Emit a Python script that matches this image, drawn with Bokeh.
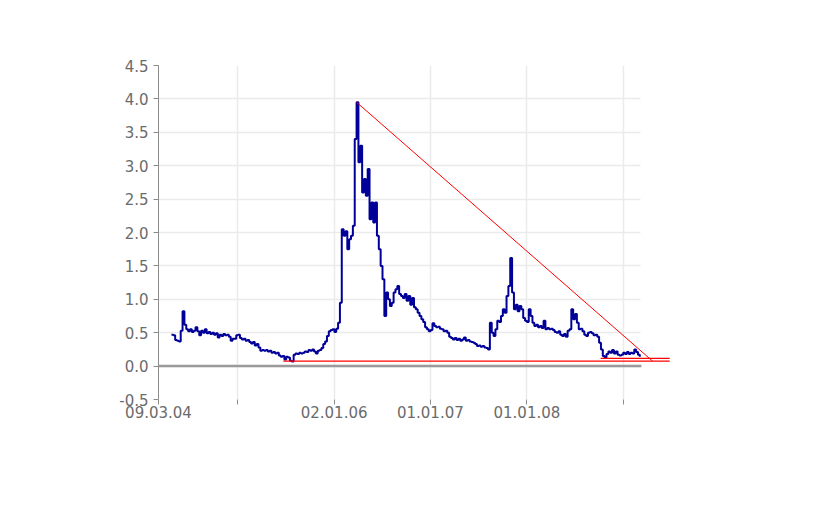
import pandas as pd
from bokeh.plotting import figure
from bokeh.models import Range1d, FixedTicker, PrintfTickFormatter
from bokeh.embed import file_html
from bokeh.resources import INLINE

# ---- data ----
start_date = "2004-04-27"          # first weekly observation
weekly_values = [
    0.47, 0.46, 0.39, 0.38, 0.37, 0.53, 0.82, 0.62, 0.55, 0.52,
    0.55, 0.51, 0.53, 0.58, 0.52, 0.46, 0.53, 0.50, 0.55, 0.49,
    0.51, 0.48, 0.50, 0.47, 0.49, 0.43, 0.47, 0.45, 0.48, 0.46,
    0.47, 0.44, 0.38, 0.41, 0.41, 0.46, 0.47, 0.42, 0.40, 0.41,
    0.38, 0.39, 0.36, 0.34, 0.36, 0.31, 0.33, 0.28, 0.23, 0.24,
    0.23, 0.24, 0.22, 0.23, 0.20, 0.21, 0.19, 0.20, 0.16, 0.14,
    0.15, 0.10, 0.14, 0.13, 0.08, 0.07, 0.17, 0.19, 0.18, 0.20,
    0.19, 0.20, 0.22, 0.21, 0.24, 0.23, 0.25, 0.22, 0.19, 0.23,
    0.24, 0.27, 0.33, 0.37, 0.45, 0.52, 0.54, 0.55, 0.51, 0.56,
    0.65, 0.95, 2.05, 1.95, 2.02, 1.75, 1.90, 1.95, 2.10, 3.40,
    3.95, 3.05, 3.30, 2.60, 2.80, 2.55, 2.95, 2.20, 2.45, 2.15,
    2.45, 1.95, 1.75, 1.50, 1.30, 0.75, 1.10, 1.00, 0.90, 0.95,
    1.10, 1.15, 1.20, 1.08, 1.05, 1.02, 1.08, 0.98, 1.05, 0.92,
    1.02, 0.88, 0.85, 0.80, 0.75, 0.70, 0.66, 0.58, 0.55, 0.52,
    0.54, 0.64, 0.60, 0.58, 0.59, 0.56, 0.55, 0.52, 0.53, 0.50,
    0.44, 0.42, 0.40, 0.42, 0.39, 0.41, 0.38, 0.40, 0.43, 0.38,
    0.39, 0.37, 0.36, 0.35, 0.33, 0.30, 0.31, 0.29, 0.30, 0.28,
    0.27, 0.25, 0.65, 0.50, 0.45, 0.55, 0.68, 0.66, 0.75, 0.85,
    0.80, 1.05, 1.20, 1.62, 1.10, 0.85, 0.92, 0.82, 0.90, 0.85,
    0.72, 0.68, 0.66, 0.85, 0.75, 0.65, 0.60, 0.62, 0.58, 0.60,
    0.57, 0.68, 0.55, 0.57, 0.55, 0.56, 0.54, 0.51, 0.50, 0.52,
    0.47, 0.45, 0.48, 0.44, 0.53, 0.55, 0.85, 0.70, 0.78, 0.65,
    0.55, 0.56, 0.52, 0.47, 0.45, 0.50, 0.51, 0.49, 0.46, 0.47,
    0.44, 0.35, 0.25, 0.15, 0.13, 0.18, 0.22, 0.20, 0.24, 0.19,
    0.22, 0.17, 0.16, 0.17, 0.20, 0.18, 0.21, 0.18, 0.20, 0.19,
    0.25, 0.21, 0.17, 0.14,
]

tick_dates = ["2004-03-09", "2005-01-01", "2006-01-02", "2007-01-01", "2008-01-01", "2009-01-01"]
tick_labels = ["09.03.04", "", "02.01.06", "01.01.07", "01.01.08", ""]
y_ticks = [-0.5, 0.0, 0.5, 1.0, 1.5, 2.0, 2.5, 3.0, 3.5, 4.0, 4.5]

trend_dates = ["2006-03-28", "2009-04-20"]
trend_values = [3.95, 0.075]
support_dates = ["2005-06-24", "2009-06-24"]
support_values = [0.075, 0.075]
support2_dates = ["2008-10-06", "2009-06-24"]
support2_values = [0.115, 0.115]
zero_dates = ["2004-03-09", "2009-03-09"]
zero_values = [0.0, 0.0]

x_start, x_end = "2004-03-09", "2009-06-27"
grid_end = "2009-03-06"

# ---- build ----
def ms(d):
    return pd.Timestamp(d).value // 10**6

dates = pd.date_range(start_date, periods=len(weekly_values), freq="7D")

p = figure(
    x_axis_type="datetime",
    output_backend="svg",
    toolbar_location=None,
    frame_width=512, frame_height=334,
    min_border_left=158, min_border_top=65,
    min_border_right=30, min_border_bottom=60,
    x_range=Range1d(pd.Timestamp(x_start), pd.Timestamp(x_end)),
    y_range=Range1d(-0.5, 4.5),
)
p.outline_line_color = None
p.background_fill_color = "white"

# grid
p.xgrid.grid_line_color = "#ebebeb"
p.ygrid.grid_line_color = "#ebebeb"
p.xgrid.grid_line_width = 1.5
p.ygrid.grid_line_width = 1.5
p.ygrid.cross_bounds = (ms(x_start), ms(grid_end))

# axes
font = "DejaVu Sans"
p.xaxis.ticker = FixedTicker(ticks=[ms(d) for d in tick_dates])
p.xaxis.major_label_overrides = {ms(d): lab for d, lab in zip(tick_dates, tick_labels)}
p.yaxis.ticker = FixedTicker(ticks=y_ticks)
p.yaxis.formatter = PrintfTickFormatter(format="%.1f")

for ax in (p.xaxis[0], p.yaxis[0]):
    ax.major_label_text_font = font
    ax.major_label_text_font_size = "15px"
    ax.major_label_text_color = "#6b6b6b"
    ax.major_tick_in = 0
    ax.major_tick_out = 5
    ax.minor_tick_line_color = None
    ax.major_tick_line_color = "#8c8c8c"
    ax.axis_line_color = "#8c8c8c"
p.xaxis.axis_line_color = None
p.xaxis.major_label_standoff = 1
p.yaxis.major_label_standoff = 5

# zero line
p.line(pd.to_datetime(zero_dates), zero_values, line_color="#9a9a9a", line_width=2.5)

# series
p.step(dates, weekly_values, mode="after", line_color="#000099", line_width=2)

# red lines
p.line(pd.to_datetime(trend_dates), trend_values, line_color="red", line_width=1)
p.line(pd.to_datetime(support_dates), support_values, line_color="red", line_width=1.2)
p.line(pd.to_datetime(support2_dates), support2_values, line_color="red", line_width=1.2)

open("out.html", "w").write(file_html(p, INLINE))
